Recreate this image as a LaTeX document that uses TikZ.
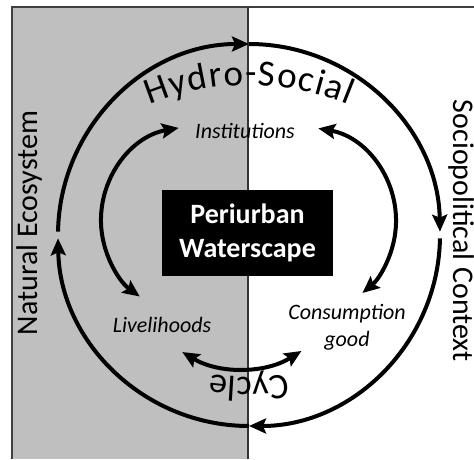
\documentclass[tikz,border=0pt]{standalone}
\usepackage{fontspec}
\setmainfont{Carlito}
\usetikzlibrary{arrows.meta,decorations.text,calc}

\tikzset{
 cyc/.style={line width=4pt, -{Stealth[length=17pt,width=15pt,inset=3pt]}},
 link/.style={line width=4pt, {Stealth[length=17pt,width=15pt,inset=3pt]}-{Stealth[length=17pt,width=15pt,inset=3pt]}},
 lbl/.style={font=\fontsize{22}{27}\selectfont\itshape, align=center, inner sep=0pt},
 side/.style={font=\fontsize{30}{36}\selectfont, anchor=base, inner sep=0pt}
}

\begin{document}
\begin{tikzpicture}[x=1pt,y=1pt]
\useasboundingbox (0,0) rectangle (474,459);

% natural half and frame
\fill[black!25] (12,0) rectangle (248,452);
\draw[black!75, line width=2pt] (12,0) -- (12,452) -- (474,452);
\draw[black!80, line width=1.2pt] (248,0) -- (248,452);

\coordinate (o) at (249,224);

% outer cycle
\foreach \a/\b in {179/90, 90/1, -1/-90, 270/181}
{
 \draw[cyc] ($(o)+(\a:191)$) arc[start angle=\a, end angle=\b, radius=191pt];
}

\coordinate (ht) at (249,114);
\coordinate (ct) at (249,342);
\path[decorate, decoration={text along path, text align={fit to path},
 text={|\fontsize{37}{44}\selectfont|Hydro-Social}}]
 ($(ht)+(112.5:260)$) arc[start angle=112.5, end angle=67.5, radius=260pt];
\path[decorate, decoration={text along path, text align=center,
 text={|\fontsize{36}{42}\selectfont|Cycle}}]
 ($(ct)+(-60:260)$) arc[start angle=-60, end angle=-120, radius=260pt];

\node[side, rotate=90] (nat) at (37,236) {Natural Ecosystem};
\node[side, rotate=-90] (soc) at (453,228) {Sociopolitical Context};

\node[fill=black, text=white, font=\fontsize{28}{34}\selectfont\bfseries, align=center,
 minimum width=171pt, minimum height=86pt] (scape) at (247.5,226) {Periurban\\Waterscape};

\node[lbl, anchor=base] (inst) at (245,321) {Institutions};
\node[lbl, anchor=base] (live) at (162,127) {Livelihoods};
\node[lbl] (cons) at (347,132) {Consumption\\good};

% inner links
\coordinate (lc) at (195,238.5);
\coordinate (rc) at (302,238);
\coordinate (bc) at (241,204.7);
\draw[link] ($(lc)+(100:94)$) arc[start angle=100, end angle=234, radius=94pt];
\draw[link] ($(rc)+(80:94)$) arc[start angle=80, end angle=-50, radius=94pt];
\draw[link] ($(bc)+(239:114)$) arc[start angle=239, end angle=302, radius=114pt];
\end{tikzpicture}
\end{document}
